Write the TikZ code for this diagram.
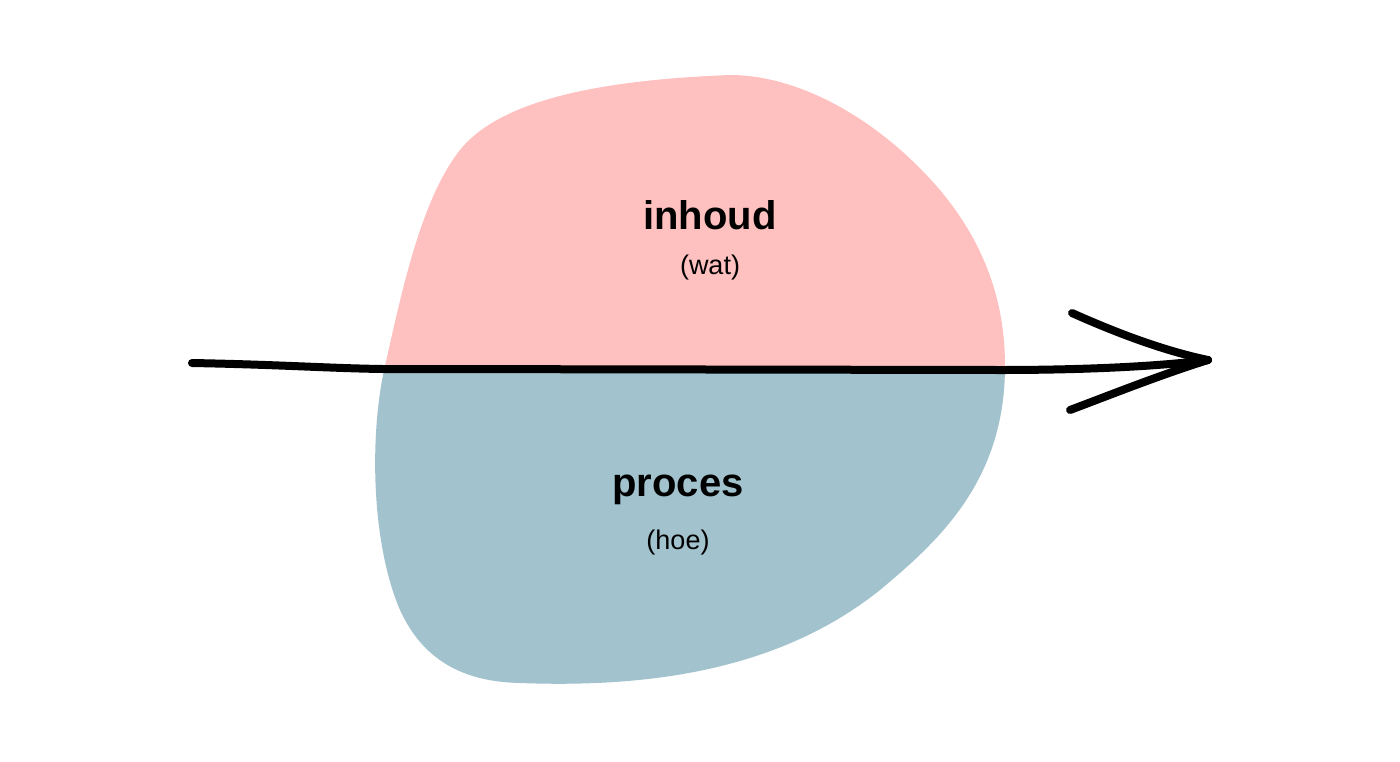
\documentclass[tikz,border=0pt]{standalone}
\usepackage{fontspec}
\setmainfont{Liberation Sans}
\definecolor{pinkc}{HTML}{FFC0C0}
\definecolor{bluec}{HTML}{A2C3CD}
\begin{document}
\begin{tikzpicture}[x=1pt,y=-1pt,
  big/.style={font=\fontsize{40}{44}\selectfont\bfseries},
  small/.style={font=\fontsize{27}{30}\selectfont},
  stroke/.style={line width=8pt,line cap=round,line join=round}]
\useasboundingbox (0,0) rectangle (1400,761);
\fill[pinkc] (385,366) .. controls (400,300) and (420,200) .. (460,150)
  .. controls (500,100) and (600,80) .. (730,75)
  .. controls (800,75) and (880,120) .. (940,190)
  .. controls (990,250) and (1005,310) .. (1005,366) -- cycle;
\fill[bluec] (385,366) .. controls (370,430) and (370,540) .. (400,610)
  .. controls (425,665) and (470,682) .. (520,683)
  .. controls (650,688) and (780,670) .. (880,590)
  .. controls (940,540) and (1005,480) .. (1005,366) -- cycle;
\node[big] (inh) at (710,215) {inhoud};
\node[small] (wat) at (710,268) {(wat)};
\node[big] (pro) at (678,490) {proces};
\node[small] (hoe) at (678,543) {(hoe)};
\coordinate (s) at (192,363);
\coordinate (tip) at (1208,360);
\coordinate (u) at (1072,313);
\coordinate (d) at (1070,410);
\draw[stroke] (s) .. controls (300,365) and (350,370) .. (420,369)
  -- (1000,370) .. controls (1100,370) and (1170,365) .. (tip);
\draw[stroke] (u) .. controls (1110,330) and (1160,350) .. (tip);
\draw[stroke] (d) .. controls (1110,395) and (1160,375) .. (tip);
\end{tikzpicture}
\end{document}
